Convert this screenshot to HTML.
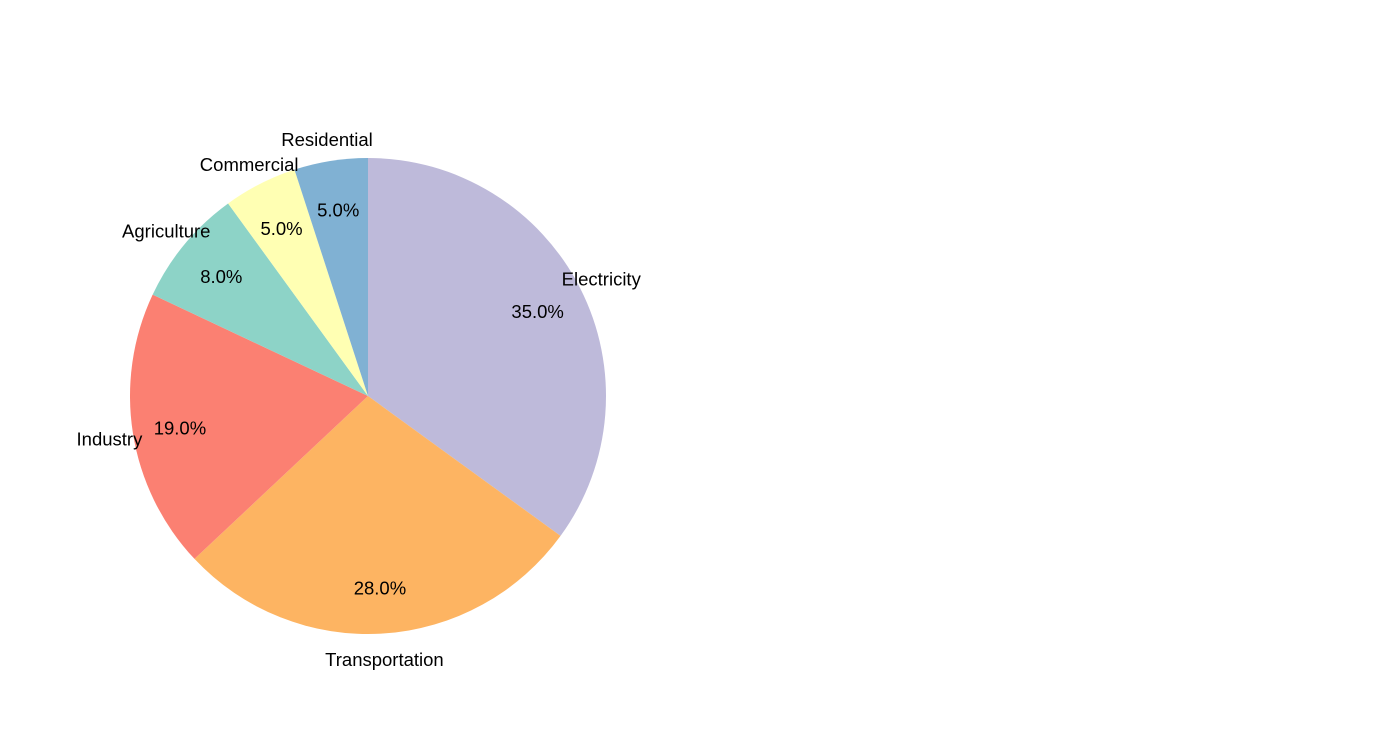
<!DOCTYPE html>
<html><head><meta charset="utf-8">
<style>
html,body{margin:0;padding:0;background:#fff;}
svg text{font-family:"Liberation Sans",Arial,sans-serif;font-size:18.5px;fill:#000;}
</style></head>
<body>
<svg id="chart" width="1400" height="750" xmlns="http://www.w3.org/2000/svg"></svg>
<script>
const categories = ["Electricity","Transportation","Industry","Agriculture","Commercial","Residential"];
const values = [35,28,19,8,5,5];
const colors = ["#bebada","#fdb462","#fb8072","#8dd3c7","#ffffb3","#80b1d3"];
const cx=368, cy=396, R=238;
const svg=document.getElementById('chart');
const NS="http://www.w3.org/2000/svg";
const total=values.reduce((a,b)=>a+b,0);
function pt(a,r){return [cx+r*Math.sin(a), cy-r*Math.cos(a)];}
let start=0;
const labels=[];
values.forEach((v,i)=>{
  const ang=v/total*2*Math.PI, end=start+ang;
  const [x1,y1]=pt(start,R),[x2,y2]=pt(end,R);
  const p=document.createElementNS(NS,'path');
  p.setAttribute('d',`M${cx},${cy}L${x1},${y1}A${R},${R} 0 ${ang>Math.PI?1:0} 1 ${x2},${y2}Z`);
  p.setAttribute('fill',colors[i]);
  
  
  svg.appendChild(p);
  const mid=start+ang/2;
  labels.push([mid,i,v]);
  start=end;
});
labels.forEach(([mid,i,v])=>{
  const [lx,ly]=pt(mid,R*1.1);
  const t=document.createElementNS(NS,'text');
  t.setAttribute('x',lx);t.setAttribute('y',ly+2);
  t.setAttribute('text-anchor','middle');t.setAttribute('dominant-baseline','central');
  t.textContent=categories[i];
  
  
  svg.appendChild(t);
  const [px,py]=pt(mid,R*0.8);
  const q=document.createElementNS(NS,'text');
  q.setAttribute('x',px);q.setAttribute('y',py+2);
  q.setAttribute('text-anchor','middle');q.setAttribute('dominant-baseline','central');
  q.textContent=(v/total*100).toFixed(1)+'%';
  
  
  svg.appendChild(q);
});
</script>
</body></html>
